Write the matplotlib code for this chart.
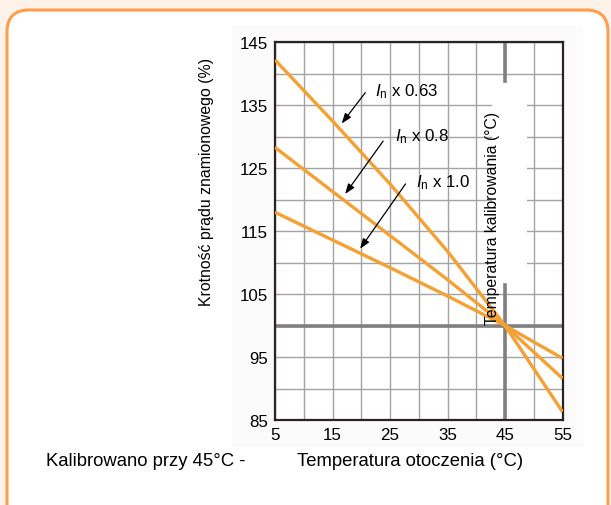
import matplotlib
matplotlib.use("Agg")
import matplotlib.pyplot as plt
from matplotlib.patches import FancyBboxPatch, Rectangle

plt.rcParams['font.family'] = ['Liberation Sans', 'DejaVu Sans']
plt.rcParams['mathtext.fontset'] = 'custom'
plt.rcParams['mathtext.rm'] = 'Liberation Sans'
plt.rcParams['mathtext.it'] = 'Liberation Sans:italic'

# ambient temperature (C) and current multiple (%) for each rated-current factor
temps = [5, 15, 25, 35, 45, 55]
ratio_063 = [142.2, 132.5, 122.5, 111.8, 100.0, 86.3]
ratio_080 = [128.3, 121.3, 114.3, 107.3, 100.0, 91.6]
ratio_100 = [118.0, 113.6, 109.2, 104.7, 100.0, 94.8]

curve_labels = [r'$\mathit{I}_{\mathrm{n}}$ x 0.63', r'$\mathit{I}_{\mathrm{n}}$ x 0.8', r'$\mathit{I}_{\mathrm{n}}$ x 1.0']
label_pos = [(22.4, 137.3), (25.9, 130.2), (29.6, 122.8)]
arrow_from = [(20.7, 137.0), (23.8, 129.3), (27.7, 122.5)]
arrow_to = [(16.6, 132.1), (17.2, 120.9), (19.8, 112.2)]

calib_temp = 45
nominal = 100
xticks = [5, 15, 25, 35, 45, 55]
yticks = [85, 95, 105, 115, 125, 135, 145]

orange = '#f5a033'
fig = plt.figure(figsize=(6.11, 5.06), dpi=100, facecolor='#fdf3e8')

# background panel with rounded orange frame
bg = fig.add_axes([0, 0, 1, 1])
bg.set_xlim(0, 611)
bg.set_ylim(506, 0)
bg.axis('off')
bg.add_patch(FancyBboxPatch((7, 11), 601, 520, boxstyle='round,pad=0,rounding_size=22',
                            facecolor='white', edgecolor='#ff9d4d', linewidth=2.2))
bg.add_patch(Rectangle((232, 27), 351, 421, facecolor='#fbfbfb', edgecolor='none'))

ax = fig.add_axes([275 / 611, 85 / 506, 287.5 / 611, 377.7 / 506])
ax.set_facecolor('white')
ax.set_xlim(5, 55)
ax.set_ylim(85, 145)
ax.set_xticks(xticks)
ax.set_yticks(yticks)
ax.set_xticks(range(5, 56, 5), minor=True)
ax.set_yticks(range(85, 146, 5), minor=True)
ax.grid(which='both', color='#a3a3a3', linewidth=1.0, zorder=1)
ax.set_axisbelow(True)
ax.tick_params(which='both', length=0, labelsize=12.2, pad=5)
for s in ax.spines.values():
    s.set_color('#2b2222')
    s.set_linewidth(1.6)

# blank strip behind the rotated calibration label
ax.add_patch(Rectangle((42.8, 106.2), 6.1, 32.6, facecolor='white', edgecolor='none', zorder=1.5))

ax.axhline(nominal, color='#808080', linewidth=2.6, zorder=2)
ax.plot([calib_temp, calib_temp], [138.8, 145], color='#808080', linewidth=2.6, zorder=2)
ax.plot([calib_temp, calib_temp], [85, 106.5], color='#808080', linewidth=2.6, zorder=2)

for ys in (ratio_063, ratio_080, ratio_100):
    ax.plot(temps, ys, color=orange, linewidth=2.4, solid_capstyle='butt', zorder=3)

for lab, pos, a0, a1 in zip(curve_labels, label_pos, arrow_from, arrow_to):
    ax.text(pos[0], pos[1], lab, fontsize=12.2, va='center', ha='left', zorder=5)
    ax.annotate('', xy=a1, xytext=a0,
                arrowprops=dict(arrowstyle='-|>,head_length=0.6,head_width=0.22',
                                color='black', linewidth=0.9, shrinkA=0, shrinkB=0),
                zorder=5)

ax.text(42.9, 100.2, 'Temperatura kalibrowania (°C)', rotation=90, fontsize=11.3,
        ha='center', va='bottom', zorder=6)

fig.text(206.5 / 611, 1 - 181.5 / 506, 'Krotność prądu znamionowego (%)', rotation=90,
         fontsize=11.4, ha='center', va='center')
fig.text(297 / 611, 1 - 462 / 506, 'Temperatura otoczenia (°C)', fontsize=13.3,
         ha='left', va='center')
fig.text(46 / 611, 1 - 462 / 506, 'Kalibrowano przy 45°C -', fontsize=13.3,
         ha='left', va='center')

fig.savefig('out.png', dpi=100, facecolor=fig.get_facecolor())
